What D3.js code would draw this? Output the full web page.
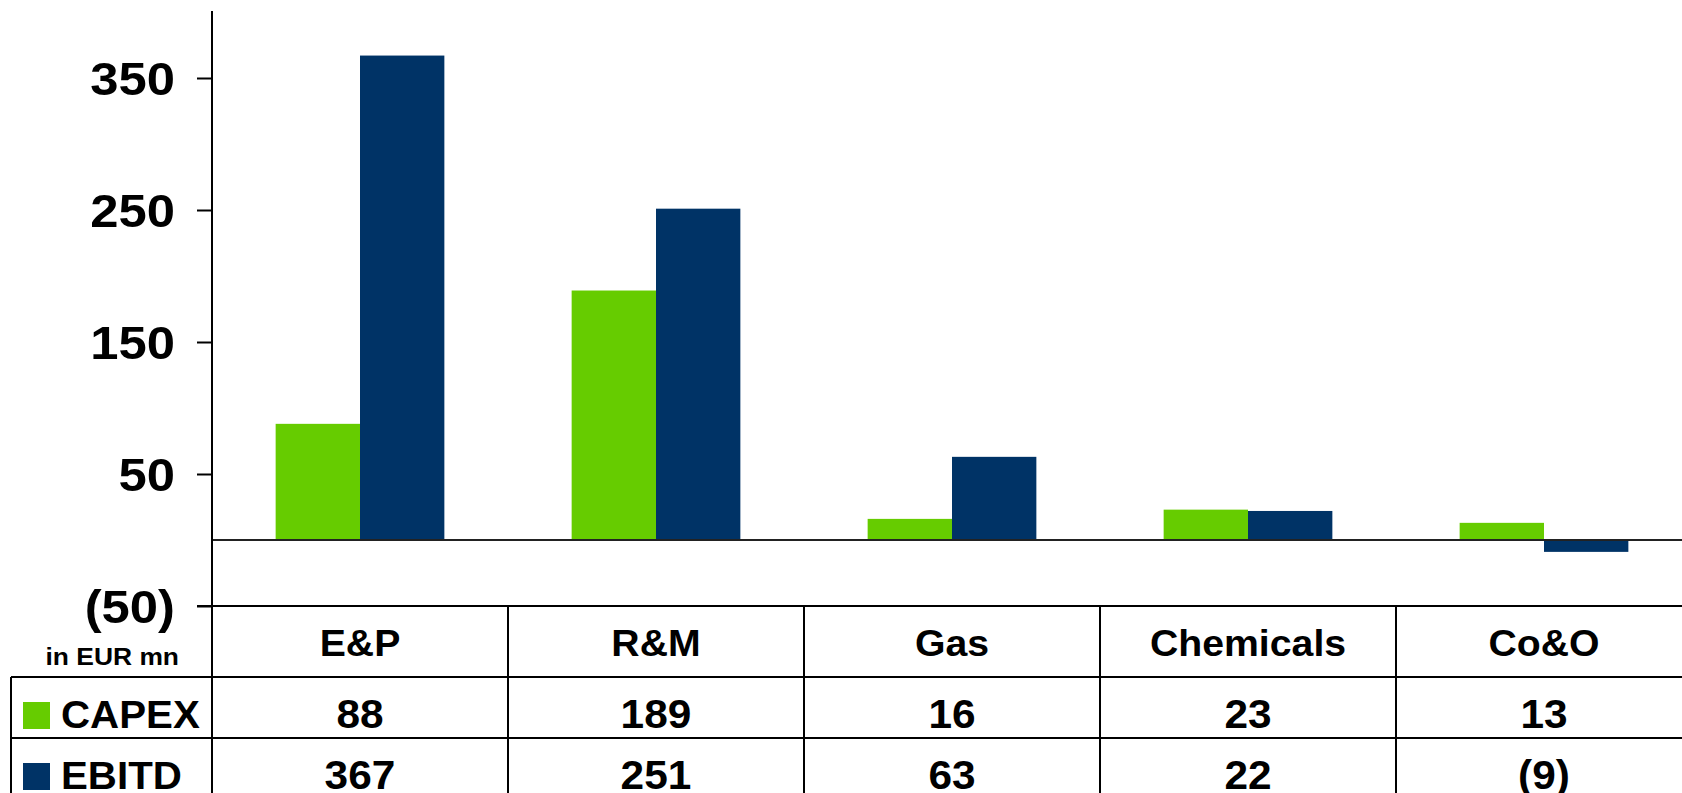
<!DOCTYPE html>
<html>
<head>
<meta charset="utf-8">
<script src="https://cdn.jsdelivr.net/npm/d3@7"></script>
<style>
	body { margin: 0; background: #fff; }
	svg { display: block; }
	text { font-family: 'Liberation Sans', Arial, sans-serif; font-weight: bold; fill: #000; }
</style>
</head>
<body>
<div class="chart"></div>
<script>
let categories = ['E&P', 'R&M', 'Gas', 'Chemicals', 'Co&O']
let series = ['CAPEX', 'EBITD']
let capex = [88, 189, 16, 23, 13]
let ebitd = [367, 251, 63, 22, -9]
let yTicks = [350, 250, 150, 50, -50]

const width = 1682
const height = 793

let colors = d3.scaleOrdinal()
	.domain(series)
	.range(['#66cc00', '#003366'])

let fmt = (v) => v < 0 ? '(' + Math.abs(v) + ')' : String(v)

// the source text is drawn a little wider than Liberation Sans
let stretch = (sel, k) => {
	sel.each(function () {
		let w = this.getComputedTextLength()
		d3.select(this)
			.attr('textLength', w * k)
			.attr('lengthAdjust', 'spacingAndGlyphs')
	})
}

let svg = d3.select('.chart')
	.append('svg')
	.attr('width', width)
	.attr('height', height)

let left = 212
let right = 1692

let cols = d3.scaleBand()
	.domain(categories)
	.range([left, right])

let x = d3.scaleBand()
	.domain(categories)
	.range([left, right])
	.paddingInner(0.43)
	.paddingOuter(0.215)

let x1 = d3.scaleBand()
	.domain(series)
	.range([0, x.bandwidth()])

let y = d3.scaleLinear()
	.domain([-50, 400])
	.range([606, 12])

let rows = categories.map((c, i) => ({ cat: c, CAPEX: capex[i], EBITD: ebitd[i] }))

// bars
let group = svg.selectAll('.cat')
	.data(rows)
	.enter().append('g')
	.attr('class', 'cat')
	.attr('transform', (d) => 'translate(' + x(d.cat) + ',0)')

group.selectAll('rect')
	.data((d) => series.map((s) => ({ key: s, value: d[s] })))
	.enter().append('rect')
	.attr('x', (d) => x1(d.key))
	.attr('width', x1.bandwidth())
	.attr('y', (d) => y(Math.max(0, d.value)))
	.attr('height', (d) => Math.abs(y(d.value) - y(0)))
	.attr('fill', (d) => colors(d.key))

// zero line
svg.append('line')
	.attr('x1', left).attr('x2', width)
	.attr('y1', y(0)).attr('y2', y(0))
	.attr('stroke', '#222')
	.attr('stroke-width', 2)

// y axis
let yAxis = d3.axisLeft(y)
	.tickValues(yTicks)
	.tickSize(15)
	.tickPadding(22)
	.tickFormat(fmt)

let ag = svg.append('g')
	.attr('transform', 'translate(' + left + ',0)')
	.call(yAxis)

ag.select('.domain').remove()
ag.selectAll('.tick line').attr('stroke', '#000').attr('stroke-width', 2)
ag.selectAll('.tick text')
	.attr('font-family', null)
	.style('font-size', '47px')
	.attr('dy', '0.36em')
	.call(stretch, 1.08)

svg.append('line')
	.attr('x1', left).attr('x2', left)
	.attr('y1', y(400) - 1).attr('y2', height)
	.attr('stroke', '#000')
	.attr('stroke-width', 2)

// table
let rowTop = y(-50)
let rowLines = [rowTop, 677, 738]

svg.append('line')
	.attr('x1', left - 15).attr('x2', width)
	.attr('y1', rowLines[0]).attr('y2', rowLines[0])
	.attr('stroke', '#000').attr('stroke-width', 2)

svg.selectAll('.row-line')
	.data(rowLines.slice(1))
	.enter().append('line')
	.attr('class', 'row-line')
	.attr('x1', 11).attr('x2', width)
	.attr('y1', (d) => d).attr('y2', (d) => d)
	.attr('stroke', '#000').attr('stroke-width', 2)

svg.append('line')
	.attr('x1', 11).attr('x2', 11)
	.attr('y1', rowLines[1]).attr('y2', height)
	.attr('stroke', '#000').attr('stroke-width', 2)

svg.selectAll('.col-line')
	.data(categories.slice(1))
	.enter().append('line')
	.attr('class', 'col-line')
	.attr('x1', (d) => cols(d)).attr('x2', (d) => cols(d))
	.attr('y1', rowTop).attr('y2', height)
	.attr('stroke', '#000').attr('stroke-width', 2)

let mid = (c) => cols(c) + cols.bandwidth() / 2

svg.selectAll('.head')
	.data(categories)
	.enter().append('text')
	.attr('class', 'head')
	.attr('x', mid)
	.attr('y', 656)
	.attr('text-anchor', 'middle')
	.style('font-size', '37px')
	.text((d) => d)
	.call(stretch, 1.06)

let valueRows = [capex, ebitd]
let baselines = [728, 789]

valueRows.forEach((vals, r) => {
	svg.selectAll('.val' + r)
		.data(vals)
		.enter().append('text')
		.attr('class', 'val' + r)
		.attr('x', (d, i) => mid(categories[i]))
		.attr('y', baselines[r])
		.attr('text-anchor', 'middle')
		.style('font-size', '40px')
		.text(fmt)
		.call(stretch, 1.06)
})

// legend cells
let legend = svg.selectAll('.legend')
	.data(series)
	.enter().append('g')
	.attr('class', 'legend')
	.attr('transform', (d, i) => 'translate(0,' + baselines[i] + ')')

legend.append('rect')
	.attr('x', 23)
	.attr('y', -26)
	.attr('width', 27)
	.attr('height', 27)
	.attr('fill', (d) => colors(d))

legend.append('text')
	.attr('x', 61)
	.attr('y', 0)
	.style('font-size', '38px')
	.text((d) => d)
	.call(stretch, 1.06)

svg.append('text')
	.attr('x', 179)
	.attr('y', 665)
	.attr('text-anchor', 'end')
	.style('font-size', '24px')
	.text('in EUR mn')
	.call(stretch, 1.1)
</script>
</body>
</html>
